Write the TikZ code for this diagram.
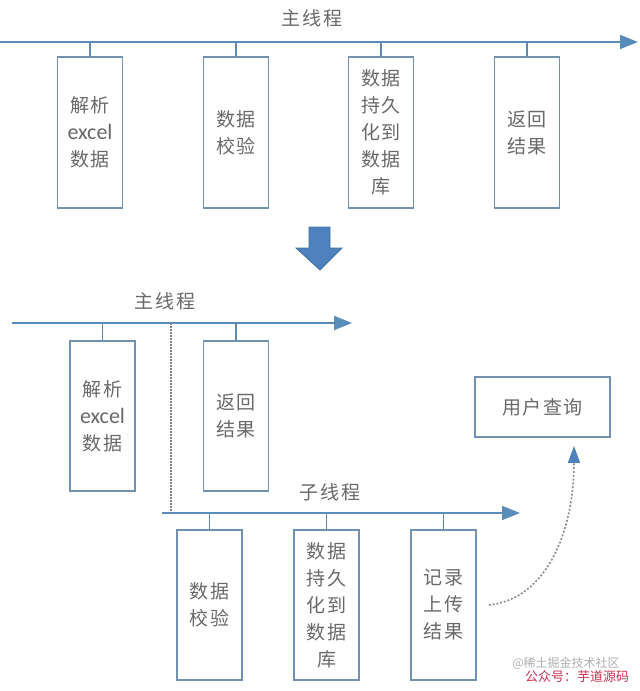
\documentclass[tikz,border=0pt]{standalone}
\usepackage{fontspec}
\setmainfont{Carlito}
\newfontfamily\cjk[LetterSpace=8]{Noto Sans CJK SC}
\newfontfamily\cjkw{Noto Sans CJK SC}
\usetikzlibrary{arrows.meta}
\definecolor{linec}{RGB}{88,140,186}
\definecolor{boxc}{RGB}{112,146,176}
\definecolor{txt}{RGB}{105,105,105}
\definecolor{arrowfill}{RGB}{79,129,189}
\definecolor{arrowedge}{RGB}{65,113,156}
\definecolor{wmred}{RGB}{200,50,80}
\definecolor{wmgray}{RGB}{175,175,175}
\newcommand{\ex}{{\rmfamily\fontsize{22}{27}\selectfont excel}}
\begin{document}
\begin{tikzpicture}[x=1pt,y=-1pt,
  mainline/.style={draw=linec,line width=1.8pt,-{Triangle[length=18pt,width=14pt]}},
  stem/.style={draw=linec!85!gray,line width=1.8pt},
  taskbox/.style={draw=boxc,line width=1.8pt,minimum width=65pt,minimum height=151pt,inner sep=0pt,align=center,text=txt,font=\cjk\fontsize{19}{27}\selectfont},
  querybox/.style={draw=boxc,line width=1.8pt,minimum width=135pt,minimum height=60pt,inner sep=0pt,text=txt,font=\cjk\fontsize{19}{20}\selectfont},
  titletext/.style={text=txt,font=\cjk\fontsize{19}{20}\selectfont,inner sep=0pt},
  splitline/.style={draw=gray,line width=1.2pt,dash pattern=on 1.5pt off 1.5pt},
  asyncline/.style={draw=gray!90,line width=1.6pt,dash pattern=on 2pt off 1.8pt,-{Triangle[length=17pt,width=12pt,color=arrowfill]}},
  bigarrow/.style={fill=arrowfill,draw=arrowedge,line width=0.8pt}
]
\useasboundingbox (0,0) rectangle (640,691);

% ---------- top: main thread ----------
\node[titletext] (t1) at (312,18) {主线程};
\coordinate (m1s) at (0,42);
\coordinate (m1e) at (638,42);
\draw[mainline] (m1s) -- (m1e);

\node[taskbox] (b1) at (90,132.5) {解析\\\ex\\数据};
\node[taskbox] (b2) at (236,132.5) {数据\\校验};
\node[taskbox] (b3) at (381,132.5) {数据\\持久\\化到\\数据\\库};
\node[taskbox] (b4) at (527,132.5) {返回\\结果};
\foreach \b in {b1,b2,b3,b4}
  \draw[stem] (\b.north) -- (\b.north |- m1s);

% ---------- big down arrow ----------
\path[bigarrow] (309,227) -- (330,227) -- (330,248) -- (342,248) -- (320,270) -- (296,248) -- (309,248) -- cycle;

% ---------- bottom: main thread ----------
\node[titletext] (t2) at (165,301) {主线程};
\coordinate (m2s) at (12,323);
\coordinate (m2e) at (352,323);
\draw[mainline] (m2s) -- (m2e);

\node[taskbox,minimum height=150pt] (a1) at (102.5,416) {解析\\\ex\\数据};
\node[taskbox,minimum height=150pt] (a2) at (236,416) {返回\\结果};
\foreach \b in {a1,a2}
  \draw[stem] (\b.north) -- (\b.north |- m2s);

% ---------- sub thread ----------
\node[titletext] (t3) at (330,492) {子线程};
\coordinate (s1s) at (162,513);
\coordinate (s1e) at (520,513);
\draw[mainline] (s1s) -- (s1e);

\coordinate (split) at (171,323);
\draw[splitline] (split) -- (split |- s1s);

\node[taskbox,minimum height=150pt] (c1) at (209.5,605) {数据\\校验};
\node[taskbox,minimum height=150pt] (c2) at (326.5,605) {数据\\持久\\化到\\数据\\库};
\node[taskbox,minimum height=150pt] (c3) at (443.5,605) {记录\\上传\\结果};
\foreach \b in {c1,c2,c3}
  \draw[stem] (\b.north) -- (\b.north |- s1s);

% ---------- user query ----------
\node[querybox] (q) at (542.5,407) {用户查询};
\draw[asyncline] ([xshift=12pt]c3.east) .. controls +(58,-6) and +(0,85) .. ([xshift=31.5pt,yshift=-8pt]q.south);

% ---------- watermark ----------
\node[text=wmgray,font=\cjkw\fontsize{12}{14}\selectfont,inner sep=0pt] (w1) at (566,663) {@稀土掘金技术社区};
\node[text=wmred,font=\cjkw\fontsize{13}{15}\selectfont,inner sep=0pt] (w2) at (577,677) {公众号：芋道源码};
\end{tikzpicture}
\end{document}
